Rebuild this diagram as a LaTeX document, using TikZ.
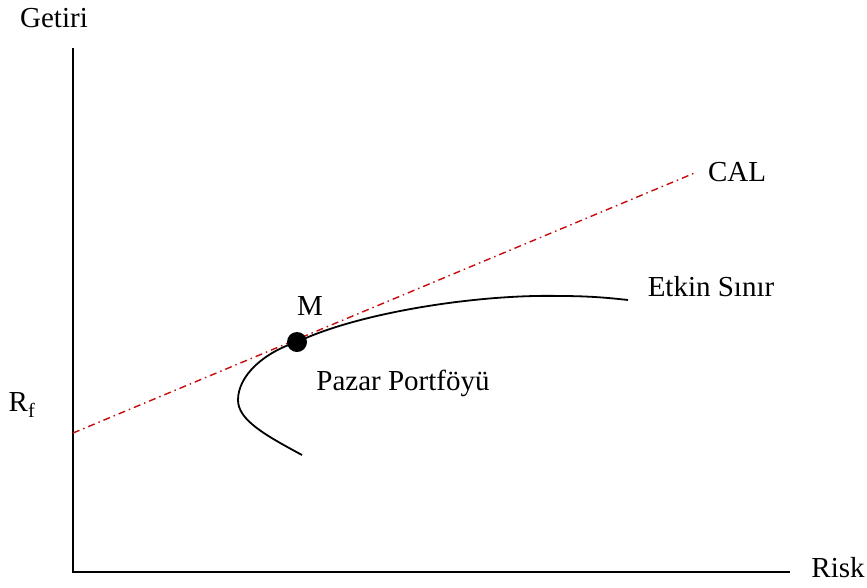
\documentclass[tikz,border=0pt]{standalone}
\usepackage{fontspec}
\setmainfont{Liberation Serif}
\begin{document}
\begin{tikzpicture}[x=1pt,y=-1pt,
  lbl/.style={inner sep=0pt,font=\fontsize{29}{31}\selectfont},
  axisline/.style={line width=2pt,black},
  calline/.style={line width=1.4pt,color={rgb,255:red,200;green,10;blue,10},dash pattern=on 7pt off 4pt on 1.5pt off 4pt},
  frontier/.style={line width=1.8pt,black}]
\useasboundingbox (0,0) rectangle (867,587);
\coordinate (O) at (73,572);
\coordinate (ytop) at (73,48);
\coordinate (xend) at (790,572);
\draw[axisline] (ytop) -- (O) -- (xend);
\node[lbl] (getiri) at (54,18) {Getiri};
\node[lbl] (risk) at (838,568) {Risk};
\node[lbl] (rf) at (22,405) {R\textsubscript{f}};
\coordinate (calstart) at (73,433);
\coordinate (calend) at (697,172);
\draw[calline] (calstart) -- (calend);
\node[lbl] (cal) at (737,172) {CAL};
\coordinate (fA) at (302,455);
\coordinate (fB) at (238,400);
\coordinate (fM) at (297,342);
\coordinate (fC) at (560,296);
\coordinate (fD) at (628,300);
\draw[frontier] (fA) .. controls (265,435) and (238,420) .. (fB)
  .. controls (238,375) and (265,352) .. (fM)
  .. controls (360,312) and (480,294) .. (fC)
  .. controls (590,296) and (610,298) .. (fD);
\fill[black] (fM) circle (10pt);
\node[lbl] (m) at (310,306) {M};
\node[lbl] (etkin) at (711,287) {Etkin Sınır};
\node[lbl] (pazar) at (403,383) {Pazar Portföyü};
\end{tikzpicture}
\end{document}
